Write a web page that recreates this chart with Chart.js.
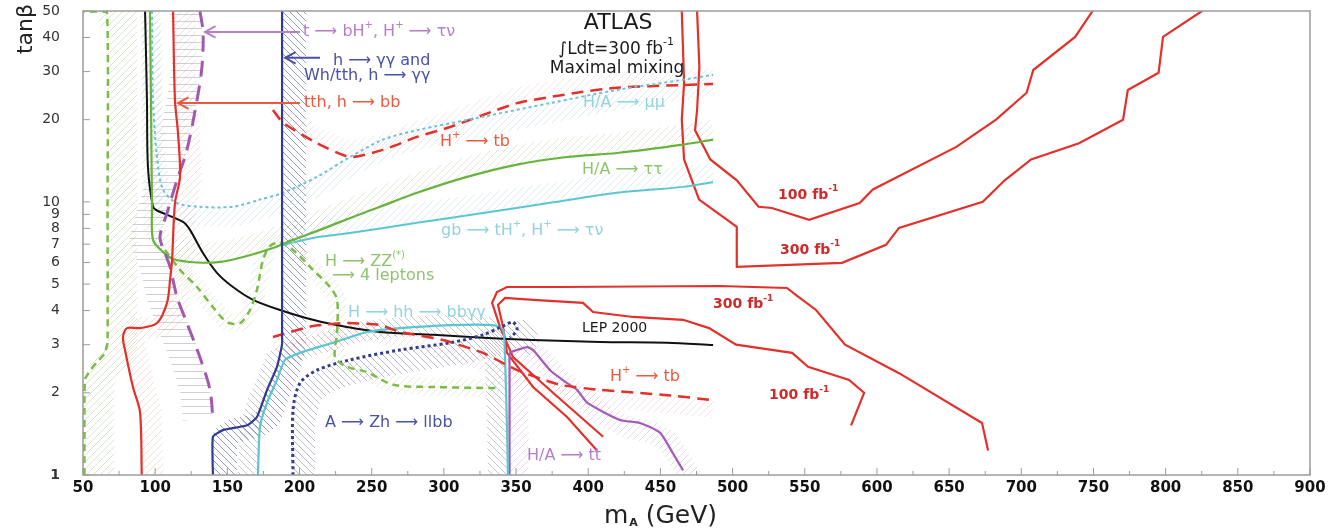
<!DOCTYPE html>
<html>
<head>
<meta charset="utf-8">
<script src="https://cdn.jsdelivr.net/npm/chart.js@4.4.1/dist/chart.umd.min.js"></script>
<style>
    html, body { margin: 0; padding: 0; background: #fff; }
    canvas { display: block; }
</style>
</head>
<body>
<canvas id="mssm" width="1328" height="532"></canvas>
<script>
// =======================================
// MSSM discovery plane: m_A (GeV) vs tan(beta)
// =======================================

const xTickStep = 50;
const yTickValues = [1, 2, 3, 4, 5, 6, 7, 8, 9, 10, 20, 30, 40, 50];

// LEP 2000 exclusion
const lepM = [93, 94.3, 95, 98.5, 101.3, 119.3, 124.1, 133.1, 142.8, 153.9, 167.8, 186.5, 209.3, 232.9, 255.8, 292.5, 327.1, 361.8, 408.2, 454.6, 486.5];
const lepT = [50, 23.6, 13.4, 9.6, 9.3, 8.45, 7.9, 6.5, 5.5, 4.88, 4.38, 4.02, 3.7, 3.48, 3.34, 3.26, 3.18, 3.12, 3.07, 3.05, 2.99];

// tth, h -> bb
const tthBbM = [112.4, 113.7, 115.8, 117.2, 113.7, 111.7, 110.3, 108.2, 101.3, 89.5, 80.5, 77.7, 79.1, 84.6, 89.5, 90.7];
const tthBbT = [50, 23.6, 17.9, 12.35, 9.9, 6.13, 5.18, 4.27, 3.6, 3.45, 3.45, 3.2, 2.87, 2.1, 1.7, 1];

// t -> bH+, H+ -> tau nu
const topHM = [131, 133.2, 132.4, 129, 122, 115.1, 108.2, 103.3, 106.8, 110.3, 115.1, 122, 131, 138, 140];
const topHT = [50, 41.6, 31.2, 23.6, 15.5, 12.0, 9.1, 7.44, 6.5, 5.78, 4.49, 3.6, 2.7, 2.05, 1.6];

// h -> gamma gamma and Wh/tth, h -> gamma gamma
const hGamM = [187.9, 187.9, 187.9, 184.4, 177.5, 170.5, 163.6, 147, 140, 140];
const hGamT = [50, 3.26, 3.0, 2.49, 2.05, 1.63, 1.52, 1.46, 1.38, 1];

// H/A -> tau tau
const tauTauM = [96.4, 97.1, 97.8, 98.5, 105.4, 112.3, 129, 144.9, 163.6, 181.6, 195.5, 214.2, 237, 255.8, 281.4, 316, 350.7, 385.3, 420, 465.7, 486.5];
const tauTauT = [50, 23.6, 9.6, 7.26, 6.56, 6.18, 6.0, 6.03, 6.34, 6.78, 7.26, 7.9, 8.81, 9.6, 10.8, 12.35, 13.7, 14.6, 15.1, 16.2, 16.9];

// gb -> tH+, H+ -> tau nu
const tauNuM = [188.6, 209.3, 235, 281.4, 327.1, 373.5, 420, 465.7, 486.5];
const tauNuT = [6.96, 7.38, 7.7, 8.38, 9.1, 9.92, 10.8, 11.35, 11.8];

// H/A -> mu mu
const muMuM = [97.8, 98.5, 101.3, 105.4, 115.1, 131, 153.9, 172.6, 188.6, 212.1, 235, 257.8, 281.4, 327.1, 373.5, 420, 465.7, 486.5];
const muMuT = [50, 23.6, 14.6, 11.1, 9.9, 9.6, 9.6, 10.2, 10.8, 12.35, 14.6, 16.9, 18.3, 20.5, 23, 25.7, 28, 29.2];

// H+ -> tb (high and low tan beta)
const tbHighM = [181.6, 188.6, 212.1, 235, 257.8, 281.4, 304.3, 327.1, 350.7, 373.5, 396.4, 420, 465.7, 486.5];
const tbHighT = [21.7, 19.5, 16.4, 14.6, 15.5, 17.3, 18.8, 20.8, 23, 24.2, 25.3, 26.2, 26.8, 27.0];
const tbLowM = [181.6, 209.3, 232.9, 255.8, 269.6, 299.4, 327.1, 350.7, 380.5, 408.2, 454.6, 486.5];
const tbLowT = [3.2, 3.51, 3.6, 3.54, 3.34, 3.12, 2.8, 2.42, 2.14, 2.05, 1.96, 1.88];

// H -> hh -> bb gamma gamma
const hhM = [171.2, 172.6, 177.5, 184.4, 190, 200.3, 223.2, 246.8, 269.6, 304.3, 334, 341, 342.4, 343.7, 344.4];
const hhT = [1, 1.5, 1.84, 2.23, 2.64, 2.8, 3.05, 3.34, 3.45, 3.54, 3.54, 3.4, 2.64, 1.5, 1];

// A -> Zh -> llbb
const zhM = [195.5, 195.5, 200.3, 212.1, 235, 269.6, 304.3, 327.1, 342.4, 348, 350.7, 345.8];
const zhT = [1, 1.73, 2.17, 2.42, 2.64, 2.87, 3.05, 3.26, 3.54, 3.63, 3.4, 3.18];

// H -> ZZ(*) -> 4 leptons
const zzM = [106.8, 117.2, 129, 140, 149.8, 158.8, 165.7, 170.5, 174.7, 179.6, 186.5, 195.5, 209.3, 221.1, 226, 226, 224.6, 232.9, 246.8, 264.8, 292.5, 338.9];
const zzT = [6.67, 5.64, 4.88, 4.12, 3.63, 3.6, 4.02, 4.76, 6.13, 6.9, 7.08, 6.67, 5.64, 4.88, 4.38, 3.31, 2.7, 2.49, 2.38, 2.14, 2.1, 2.08];
const zzLowM = [51, 51, 51.5, 55, 60, 65, 67, 67, 66.5, 51];
const zzLowT = [1, 2.0, 2.25, 2.42, 2.6, 2.78, 3.05, 10, 49.6, 49.6];

// H/A -> tt
const ttM = [345.5, 345.5, 345.8, 350.7, 357.6, 361.8, 373.6, 385.3, 392.3, 399.2, 422, 435.9, 449.7, 458.7, 465.7];
const ttT = [1, 2.5, 2.8, 2.87, 2.94, 2.87, 2.42, 2.17, 2.05, 1.84, 1.59, 1.55, 1.43, 1.2, 1.04];

// 100 / 300 fb-1 contours, high tan beta
const high300M = [464.8, 466.4, 464.8, 466.4, 476.8, 502.9, 502.9, 575.8, 606.3, 615.3, 673.3, 688.5, 706.8, 740, 770.5, 773.8, 795.1, 798.2, 825.2];
const high300T = [50, 27.3, 20, 14.3, 10.2, 8.1, 5.78, 5.98, 6.96, 8.03, 10, 12, 14.3, 16.4, 20, 25.7, 29.7, 40.2, 50];
const high100M = [475.4, 477, 475.4, 474, 484.6, 502.9, 518, 527.2, 553, 588, 597.2, 655, 682.5, 703.7, 708.3, 737.3, 749.4];
const high100T = [50, 31.2, 21.7, 18.3, 14.3, 12, 9.6, 9.5, 8.6, 9.9, 11.1, 15.9, 20, 25.1, 30.4, 40.2, 50];

// 100 / 300 fb-1 contours, low tan beta
const low300M = [410.3, 375.6, 347.9, 338.9, 333.4, 336.8, 343.7, 380.5, 491.3, 537.7, 544, 557.8, 577.9, 615.3, 672.8, 677];
const low300T = [1.38, 2.0, 2.7, 3.48, 4.27, 4.68, 4.88, 4.88, 4.92, 4.84, 4.56, 4.02, 3.0, 2.36, 1.55, 1.23];
const low100M = [406.1, 385.3, 361.8, 343.7, 341, 337.5, 342.4, 361.8, 396.4, 403.3, 431, 465.7, 483.7, 502.4, 541.2, 552.3, 580.7, 591.1, 582.1];
const low100T = [1.23, 1.63, 2.1, 2.8, 3.48, 4.2, 4.45, 4.38, 4.27, 3.95, 3.79, 3.7, 3.45, 3.0, 2.8, 2.49, 2.23, 2.0, 1.52];

// ---------------------------------------
// colours
const RED = '#e4302a';
const PURPLE = '#a159ae';
const NAVY = '#2f3a94';
const CYAN = '#5cc6d0';
const GREEN = '#68b23d';
const GREEN_DASH = '#7dba4a';

const FONT = '"DejaVu Sans", "Liberation Sans", sans-serif';

function points(ms, ts) {
    return ms.map((m, i) => ({ x: m, y: ts[i] }));
}

function curve(ms, ts, color, width, opts = {}) {
    return {
        data: points(ms, ts),
        showLine: true,
        borderColor: color,
        borderWidth: width,
        borderDash: opts.dash || [],
        pointRadius: 0,
        tension: opts.tension ?? 0.25,
        hatch: opts.hatch || null
    };
}

const datasets = [
    curve(zzLowM, zzLowT, GREEN_DASH, 2.5, { dash: [7, 5], tension: 0.1,
        hatch: { color: 'rgba(170,200,140,0.45)', kind: '/', width: 30, dx: 15 } }),
    curve(tthBbM, tthBbT, RED, 2.2, { tension: 0.3,
        hatch: { color: 'rgba(220,170,160,0.4)', kind: '/', width: 22, dx: 11 } }),
    curve(topHM, topHT, PURPLE, 3, { dash: [16, 9], tension: 0.3,
        hatch: { color: 'rgba(150,150,160,0.45)', kind: 'h', width: 30, dx: -15 } }),
    curve(hGamM, hGamT, NAVY, 2.2, { tension: 0.15,
        hatch: { color: 'rgba(60,70,135,0.55)', kind: '\\', width: 24, dx: 12 } }),
    curve(muMuM, muMuT, '#6fc0d6', 2, { dash: [3, 3], tension: 0.3,
        hatch: { color: 'rgba(160,200,215,0.38)', kind: '/', width: 20, dy: 10 } }),
    curve(tbHighM, tbHighT, RED, 2.5, { dash: [12, 7], tension: 0.2,
        hatch: { color: 'rgba(225,175,175,0.32)', kind: '/', width: 16, dy: -8 } }),
    curve(tauTauM, tauTauT, GREEN, 2.2, { tension: 0.3,
        hatch: { color: 'rgba(170,195,150,0.38)', kind: '/', width: 20, dy: -10 } }),
    curve(tauNuM, tauNuT, CYAN, 2, { tension: 0.3,
        hatch: { color: 'rgba(160,205,215,0.38)', kind: '/', width: 20, dy: -10 } }),
    curve(zzM, zzT, GREEN_DASH, 2.5, { dash: [7, 5], tension: 0.3,
        hatch: { color: 'rgba(175,205,155,0.38)', kind: '/', width: 18 } }),
    curve(tbLowM, tbLowT, RED, 2.5, { dash: [12, 7], tension: 0.2,
        hatch: { color: 'rgba(225,175,175,0.38)', kind: '/', width: 18, dy: 9 } }),
    curve(zhM, zhT, '#333d8c', 3, { dash: [3, 3], tension: 0.3,
        hatch: { color: 'rgba(95,100,140,0.45)', kind: '\\', width: 24, dx: 10, dy: 10 } }),
    curve(hhM, hhT, CYAN, 2.2, { tension: 0.2,
        hatch: { color: 'rgba(115,115,125,0.42)', kind: '\\', width: 20, dx: -10 } }),
    curve(ttM, ttT, '#a35ab8', 2.2, { tension: 0.2,
        hatch: { color: 'rgba(205,165,215,0.42)', kind: '/', width: 22, dx: 8, dy: 8 } }),
    curve(lepM, lepT, '#111111', 2, { tension: 0.3 }),
    curve(high300M, high300T, RED, 2.2, { tension: 0 }),
    curve(high100M, high100T, RED, 2.2, { tension: 0 }),
    curve(low300M, low300T, RED, 2.2, { tension: 0 }),
    curve(low100M, low100T, RED, 2.2, { tension: 0 })
];

// text labels placed at (m_A, tan beta)
const labels = [
    { text: 't ⟶ bH^{+}, H^{+} ⟶ τν', m: 202.4, t: 41.9, color: '#b77fc8' },
    { text: 'h ⟶ γγ and', m: 223.2, t: 32.9, color: '#4a52a5' },
    { text: 'Wh/tth, h ⟶ γγ', m: 203.1, t: 28.9, color: '#4a52a5' },
    { text: 'tth, h ⟶ bb', m: 203.1, t: 23, color: '#ea5a3e' },
    { text: 'ATLAS', m: 420.7, t: 44.9, color: '#1a1a1a', size: 22, align: 'center' },
    { text: '∫Ldt=300 fb^{-1}', m: 419.3, t: 36.1, color: '#1a1a1a', size: 17, align: 'center' },
    { text: 'Maximal mixing', m: 420, t: 30.7, color: '#1a1a1a', size: 17, align: 'center' },
    { text: 'H/A ⟶ μμ', m: 396.4, t: 23, color: '#92d3e0' },
    { text: 'H^{+} ⟶ tb', m: 297.3, t: 16.6, color: '#ea5a3e' },
    { text: 'H/A ⟶ ττ', m: 395.7, t: 13.1, color: '#8fc46f' },
    { text: 'gb ⟶ tH^{+}, H^{+} ⟶ τν', m: 298, t: 7.83, color: '#92d3e0' },
    { text: 'H ⟶ ZZ^{(*)}', m: 217.7, t: 6.04, color: '#8fc46f' },
    { text: '⟶ 4 leptons', m: 222.5, t: 5.36, color: '#8fc46f' },
    { text: 'H ⟶ hh ⟶ bbγγ', m: 233.6, t: 3.92, color: '#92d3e0' },
    { text: 'LEP 2000', m: 395.7, t: 3.43, color: '#1a1a1a', size: 14 },
    { text: 'H^{+} ⟶ tb', m: 415.1, t: 2.29, color: '#ea5a3e' },
    { text: 'A ⟶ Zh ⟶ llbb', m: 217.7, t: 1.55, color: '#4a52a5' },
    { text: 'H/A ⟶ tt', m: 357.6, t: 1.18, color: '#b77fc8' },
    { text: '100 fb^{-1}', m: 531.5, t: 10.6, color: '#cf2a2a', size: 14, weight: 'bold' },
    { text: '300 fb^{-1}', m: 532.9, t: 6.67, color: '#cf2a2a', size: 14, weight: 'bold' },
    { text: '300 fb^{-1}', m: 486.5, t: 4.2, color: '#cf2a2a', size: 14, weight: 'bold' },
    { text: '100 fb^{-1}', m: 525.3, t: 1.96, color: '#cf2a2a', size: 14, weight: 'bold' }
];

// pointer arrows: tail -> head
const arrows = [
    { from: [200.3, 41.9], to: [134.5, 41.9], color: '#b77fc8' },
    { from: [214.2, 33.7], to: [190, 33.7], color: '#4a52a5' },
    { from: [200.3, 23], to: [115.8, 23], color: '#ea5a3e' }
];

// ---------------------------------------
// helpers

const patternCache = {};
function hatchPattern(ctx, color, kind) {
    const key = color + kind;
    if (patternCache[key]) return patternCache[key];
    const s = 7;
    const c = document.createElement('canvas');
    c.width = s; c.height = s;
    const g = c.getContext('2d');
    g.strokeStyle = color;
    g.lineWidth = 1;
    g.beginPath();
    if (kind === 'h') {
        g.moveTo(0, 0.5); g.lineTo(s, 0.5);
    } else if (kind === '\\') {
        g.moveTo(-1, -1); g.lineTo(s + 1, s + 1);
        g.moveTo(-1, s - 1); g.lineTo(1, s + 1);
        g.moveTo(s - 1, -1); g.lineTo(s + 1, 1);
    } else {
        g.moveTo(-1, s + 1); g.lineTo(s + 1, -1);
        g.moveTo(-1, 1); g.lineTo(1, -1);
        g.moveTo(s - 1, s + 1); g.lineTo(s + 1, s - 1);
    }
    g.stroke();
    patternCache[key] = ctx.createPattern(c, 'repeat');
    return patternCache[key];
}

// text with ^{sup} and _{sub} pieces
function drawRich(ctx, str, x, y, size, weight, color, align) {
    const parts = str.split(/(\^\{[^}]*\}|_\{[^}]*\})/).filter(p => p.length);
    const items = parts.map(p => {
        if (p.startsWith('^{')) return { s: p.slice(2, -1), k: 'sup' };
        if (p.startsWith('_{')) return { s: p.slice(2, -1), k: 'sub' };
        return { s: p, k: 'n' };
    });
    const fontFor = k => `${weight} ${k === 'n' ? size : Math.round(size * 0.62)}px ${FONT}`;
    let total = 0;
    items.forEach(it => {
        ctx.font = fontFor(it.k);
        it.w = ctx.measureText(it.s).width;
        total += it.w;
    });
    let cx = align === 'center' ? x - total / 2 : x;
    ctx.fillStyle = color;
    ctx.textBaseline = 'middle';
    ctx.textAlign = 'left';
    items.forEach(it => {
        ctx.font = fontFor(it.k);
        const dy = it.k === 'sup' ? -size * 0.42 : it.k === 'sub' ? size * 0.3 : 0;
        ctx.fillText(it.s, cx, y + dy);
        cx += it.w;
    });
}

const hatchPlugin = {
    id: 'hatchBands',
    beforeDatasetsDraw(chart) {
        const { ctx, chartArea: a } = chart;
        ctx.save();
        ctx.beginPath();
        ctx.rect(a.left, a.top, a.right - a.left, a.bottom - a.top);
        ctx.clip();
        chart.data.datasets.forEach((ds, i) => {
            const h = ds.hatch;
            if (!h) return;
            const pts = chart.getDatasetMeta(i).data;
            ctx.save();
            ctx.translate(h.dx || 0, h.dy || 0);
            ctx.strokeStyle = hatchPattern(ctx, h.color, h.kind);
            ctx.lineWidth = h.width;
            ctx.lineJoin = 'round';
            ctx.beginPath();
            pts.forEach((p, k) => (k ? ctx.lineTo(p.x, p.y) : ctx.moveTo(p.x, p.y)));
            ctx.stroke();
            ctx.restore();
        });
        ctx.restore();
    }
};

const annotationPlugin = {
    id: 'annotations',
    afterDatasetsDraw(chart) {
        const { ctx, scales: { x, y } } = chart;
        ctx.save();

        labels.forEach(l => {
            drawRich(ctx, l.text, x.getPixelForValue(l.m), y.getPixelForValue(l.t),
                l.size || 16, l.weight || 'normal', l.color, l.align || 'left');
        });

        arrows.forEach(a => {
            const x0 = x.getPixelForValue(a.from[0]), y0 = y.getPixelForValue(a.from[1]);
            const x1 = x.getPixelForValue(a.to[0]), y1 = y.getPixelForValue(a.to[1]);
            const ang = Math.atan2(y1 - y0, x1 - x0);
            ctx.strokeStyle = a.color;
            ctx.lineWidth = 2;
            ctx.beginPath();
            ctx.moveTo(x0, y0); ctx.lineTo(x1, y1);
            ctx.moveTo(x1 - 12 * Math.cos(ang - 0.5), y1 - 12 * Math.sin(ang - 0.5));
            ctx.lineTo(x1, y1);
            ctx.lineTo(x1 - 12 * Math.cos(ang + 0.5), y1 - 12 * Math.sin(ang + 0.5));
            ctx.stroke();
        });

        ctx.restore();
    },
    afterDraw(chart) {
        const { ctx, chartArea: a, scales: { x, y } } = chart;
        ctx.save();

        // frame
        ctx.strokeStyle = '#9c9c9c';
        ctx.lineWidth = 1.5;
        ctx.strokeRect(a.left, a.top, a.right - a.left, a.bottom - a.top);

        // inward tick marks
        ctx.lineWidth = 1;
        ctx.beginPath();
        for (let m = 50; m <= 900; m += xTickStep / 2) {
            const px = x.getPixelForValue(m);
            const len = m % xTickStep === 0 ? 7 : 4;
            ctx.moveTo(px, a.bottom); ctx.lineTo(px, a.bottom - len);
        }
        yTickValues.forEach(v => {
            const py = y.getPixelForValue(v);
            ctx.moveTo(a.left, py); ctx.lineTo(a.left + 7, py);
        });
        ctx.stroke();

        // axis titles
        ctx.fillStyle = '#222';
        ctx.save();
        ctx.translate(26, 29);
        ctx.rotate(-Math.PI / 2);
        ctx.font = `22px ${FONT}`;
        ctx.textAlign = 'center';
        ctx.textBaseline = 'middle';
        ctx.fillText('tanβ', 0, 0);
        ctx.restore();

        ctx.textBaseline = 'middle';
        ctx.textAlign = 'left';
        ctx.font = `25px ${FONT}`;
        const mW = ctx.measureText('m').width;
        ctx.font = `bold 11px ${FONT}`;
        const aW = ctx.measureText('A').width;
        ctx.font = `25px ${FONT}`;
        const restW = ctx.measureText(' (GeV)').width;
        let tx = 660 - (mW + aW + restW) / 2;
        ctx.fillText('m', tx, 516);
        ctx.font = `bold 11px ${FONT}`;
        ctx.fillText('A', tx + mW + 1, 523);
        ctx.font = `25px ${FONT}`;
        ctx.fillText(' (GeV)', tx + mW + aW + 1, 516);

        ctx.restore();
    }
};

new Chart(document.getElementById('mssm'), {
    type: 'scatter',
    data: { datasets },
    options: {
        responsive: false,
        animation: false,
        events: [],
        layout: { padding: { top: 11, right: 18, left: 0, bottom: 0 } },
        plugins: {
            legend: { display: false },
            tooltip: { enabled: false }
        },
        scales: {
            x: {
                type: 'linear',
                min: 50,
                max: 900,
                grid: { display: false },
                border: { display: false },
                ticks: {
                    stepSize: xTickStep,
                    autoSkip: false,
                    maxRotation: 0,
                    padding: -4,
                    color: '#111',
                    font: { family: FONT, size: 15, weight: 'bold' }
                },
                afterFit: s => {
                    s.height = 57;
                    s.paddingLeft = 0;
                    s.paddingRight = 0;
                }
            },
            y: {
                type: 'logarithmic',
                min: 1,
                max: 50,
                grid: { display: false },
                border: { display: false },
                afterBuildTicks: s => { s.ticks = yTickValues.map(v => ({ value: v })); },
                ticks: {
                    autoSkip: false,
                    padding: 15,
                    color: '#333',
                    font: c => ({ family: FONT, size: 14, weight: c.tick && c.tick.value === 1 ? 'bold' : 'normal' }),
                    callback: v => String(v)
                },
                afterFit: s => {
                    s.width = 83;
                    s.paddingTop = 0;
                    s.paddingBottom = 0;
                }
            }
        }
    },
    plugins: [hatchPlugin, annotationPlugin]
});
</script>
</body>
</html>
